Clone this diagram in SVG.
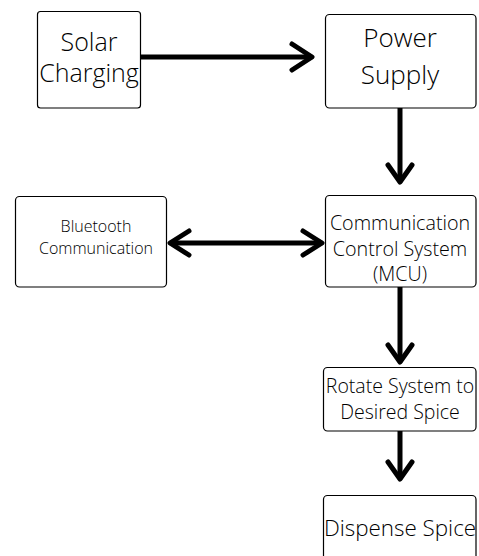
<svg xmlns="http://www.w3.org/2000/svg" width="479" height="556" viewBox="0 0 479 556">
  <style>
    .box { fill: #ffffff; stroke: #000000; stroke-width: 1.2; }
    .lbl { font-family: "Open Sans", "Liberation Sans", sans-serif; font-weight: 300; fill: #000000; text-anchor: middle; }
    .wire { fill: none; stroke: #000000; stroke-width: 5; stroke-linecap: round; stroke-linejoin: round; }
  </style>
  <rect width="479" height="556" fill="#ffffff"/>

  <g id="connectors">
    <!-- Solar Charging to Power Supply -->
    <path class="wire" d="M141 57 H311"/>
    <path class="wire" d="M292 44 L312 57 L292 70"/>
    <!-- Power Supply to Control System -->
    <path class="wire" d="M400 108 V181"/>
    <path class="wire" d="M388 165 L400 182 L412 165"/>
    <!-- Bluetooth <-> Control System -->
    <path class="wire" d="M171 243 H321"/>
    <path class="wire" d="M189 231 L170 243 L189 255"/>
    <path class="wire" d="M303 231 L322 243 L303 255"/>
    <!-- Control System to Rotate -->
    <path class="wire" d="M400 287 V361"/>
    <path class="wire" d="M388 345 L400 362 L412 345"/>
    <!-- Rotate to Dispense -->
    <path class="wire" d="M400 431 V478"/>
    <path class="wire" d="M388 462 L400 479 L412 462"/>
  </g>

  <g id="solar">
    <rect class="box" x="37.5" y="11.5" width="103" height="96.5" rx="3"/>
    <text class="lbl" x="89" y="51" font-size="25">Solar</text>
    <text class="lbl" x="89" y="82" font-size="25">Charging</text>
  </g>

  <g id="power">
    <rect class="box" x="325.5" y="14.5" width="150.5" height="93.5" rx="4"/>
    <text class="lbl" x="400" y="47" font-size="26">Power</text>
    <text class="lbl" x="400" y="84" font-size="26">Supply</text>
  </g>

  <g id="bluetooth">
    <rect class="box" x="15.5" y="196.5" width="151" height="90.5" rx="4"/>
    <text class="lbl" x="96" y="232" font-size="16">Bluetooth</text>
    <text class="lbl" x="96" y="254" font-size="16">Communication</text>
  </g>

  <g id="mcu">
    <rect class="box" x="325.5" y="195.5" width="150.5" height="91.5" rx="4"/>
    <text class="lbl" x="400" y="230" font-size="19.7">Communication</text>
    <text class="lbl" x="400" y="256" font-size="19.7">Control System</text>
    <text class="lbl" x="400" y="281" font-size="19.7">(MCU)</text>
  </g>

  <g id="rotate">
    <rect class="box" x="323.5" y="367.5" width="152.5" height="63.5" rx="4"/>
    <text class="lbl" x="400" y="393" font-size="19.5">Rotate System to</text>
    <text class="lbl" x="400" y="419" font-size="19.5">Desired Spice</text>
  </g>

  <g id="dispense">
    <rect class="box" x="323.5" y="495.5" width="152.5" height="80" rx="4"/>
    <text class="lbl" x="400" y="536" font-size="22.4">Dispense Spice</text>
  </g>
</svg>
